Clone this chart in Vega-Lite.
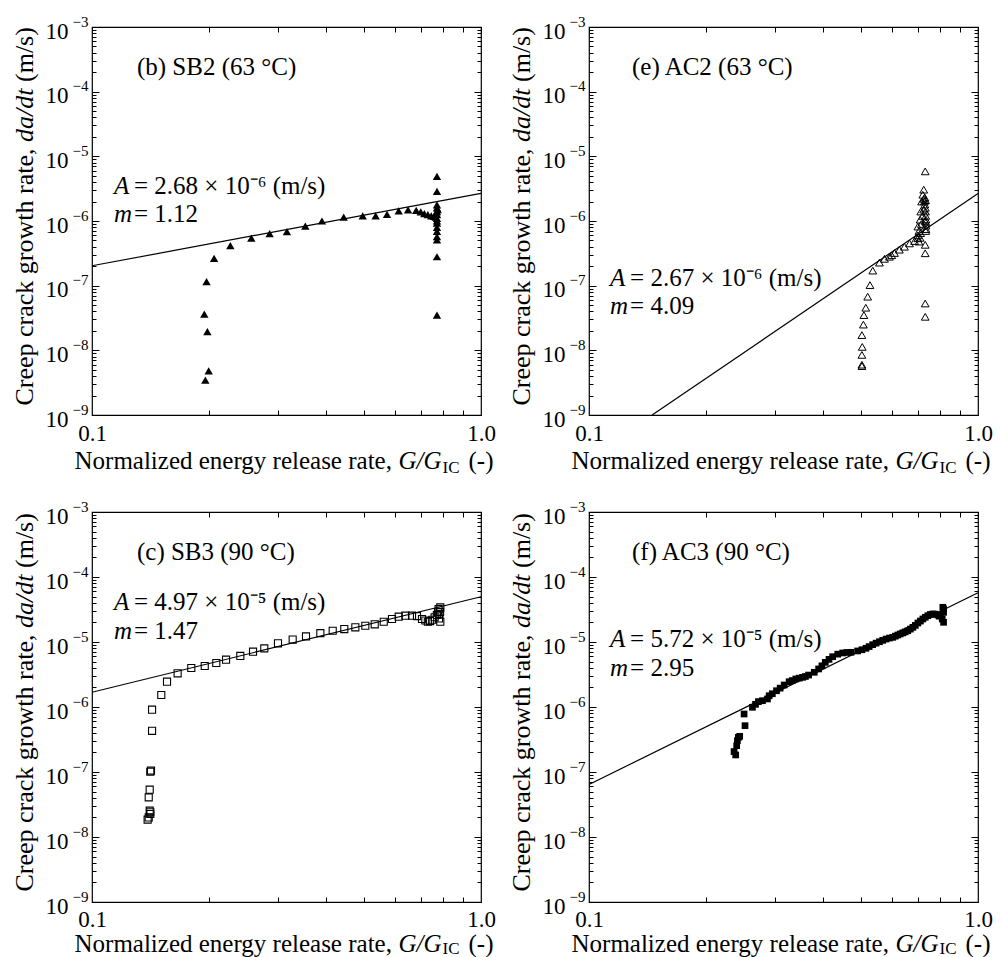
{
  "$schema": "https://vega.github.io/schema/vega-lite/v6.json",
  "background": "white",
  "padding": {"left": 10, "top": 13, "right": 5, "bottom": 0},
  "config": {
    "font": "Liberation Serif",
    "view": {"stroke": "black", "strokeWidth": 1.2},
    "axis": {"grid": false, "domain": false, "labelFont": "Liberation Serif", "titleFont": "Liberation Serif", "labelColor": "black", "titleColor": "black", "tickColor": "black", "titleFontWeight": "normal", "labelOverlap": false, "labelFlush": false},
    "axisX": {"titleFontSize": 25, "titleY": 53, "titleBaseline": "alphabetic", "titleAlign": "left", "titleAngle": 0},
    "axisY": {"titleFontSize": 26, "titleX": -60, "titleBaseline": "alphabetic", "titleAlign": "left", "titleAngle": 270}
  },
  "datasets": {
    "SB2": [
      {"g":0.1956,"v":3.45e-9},{"g":0.1995,"v":4.8e-9},{"g":0.198,"v":1.94e-8},{"g":0.1944,"v":3.64e-8},{"g":0.197,"v":1.15e-7},{"g":0.206,"v":2.65e-7},{"g":0.2268,"v":4.17e-7},{"g":0.2568,"v":5.42e-7},{"g":0.2862,"v":6.4e-7},{"g":0.317,"v":6.87e-7},{"g":0.3535,"v":8.3e-7},{"g":0.39,"v":1.0e-6},{"g":0.4436,"v":1.15e-6},{"g":0.4965,"v":1.2e-6},{"g":0.536,"v":1.2e-6},{"g":0.5733,"v":1.27e-6},{"g":0.6143,"v":1.44e-6},{"g":0.6493,"v":1.49e-6},{"g":0.6814,"v":1.46e-6},{"g":0.70,"v":1.38e-6},{"g":0.715,"v":1.3e-6},{"g":0.73,"v":1.25e-6},{"g":0.745,"v":1.2e-6},{"g":0.757,"v":1.18e-6},{"g":0.765,"v":1.15e-6},
      {"g":0.7706,"v":4.9e-6},{"g":0.7706,"v":2.87e-6},{"g":0.7706,"v":1.78e-6},{"g":0.7706,"v":1.6e-6},{"g":0.7706,"v":1.4e-6},{"g":0.7706,"v":1.25e-6},{"g":0.7706,"v":1.1e-6},{"g":0.7706,"v":1.0e-6},{"g":0.7706,"v":9.3e-7},{"g":0.7706,"v":8.0e-7},{"g":0.7706,"v":6.9e-7},{"g":0.7706,"v":5.75e-7},{"g":0.7706,"v":5.1e-7},{"g":0.7706,"v":2.8e-7},{"g":0.7706,"v":3.5e-8},{"g":0.768,"v":1.3e-6},{"g":0.774,"v":1.5e-6}
    ],
    "AC2": [
      {"g":0.503,"v":5.7e-9},{"g":0.503,"v":6.0e-9},{"g":0.503,"v":8.5e-9},{"g":0.504,"v":1.13e-8},{"g":0.503,"v":1.72e-8},{"g":0.5074,"v":2.5e-8},{"g":0.509,"v":3.5e-8},{"g":0.5147,"v":4.56e-8},{"g":0.5205,"v":6.75e-8},{"g":0.5276,"v":1.02e-7},{"g":0.5364,"v":1.71e-7},
      {"g":0.558,"v":2.27e-7},{"g":0.575,"v":2.6e-7},{"g":0.592,"v":2.8e-7},{"g":0.60,"v":2.95e-7},{"g":0.61,"v":3.2e-7},{"g":0.628,"v":3.6e-7},{"g":0.647,"v":4.0e-7},{"g":0.667,"v":4.5e-7},{"g":0.687,"v":4.9e-7},{"g":0.70,"v":5.4e-7},{"g":0.705,"v":4.8e-7},{"g":0.71,"v":5.5e-7},
      {"g":0.7006,"v":6.0e-7},{"g":0.705,"v":7.0e-7},{"g":0.712,"v":6.5e-7},{"g":0.7006,"v":8.2e-7},{"g":0.71,"v":1.05e-6},{"g":0.7125,"v":1.4e-6},{"g":0.7163,"v":2.0e-6},{"g":0.7213,"v":2.55e-6},{"g":0.7253,"v":3.05e-6},{"g":0.7316,"v":5.85e-6},
      {"g":0.725,"v":2.2e-6},{"g":0.728,"v":2.0e-6},{"g":0.73,"v":1.8e-6},{"g":0.732,"v":1.6e-6},{"g":0.733,"v":1.4e-6},{"g":0.734,"v":1.2e-6},{"g":0.735,"v":1.05e-6},{"g":0.735,"v":9.5e-7},{"g":0.735,"v":8.5e-7},{"g":0.735,"v":7.5e-7},{"g":0.734,"v":7.0e-7},{"g":0.73,"v":2.3e-6},{"g":0.733,"v":2.1e-6},{"g":0.72,"v":1.2e-6},{"g":0.715,"v":9e-7},{"g":0.725,"v":1.5e-6},{"g":0.731,"v":1.0e-6},
      {"g":0.7316,"v":4.28e-7},{"g":0.7316,"v":3.17e-7},{"g":0.7316,"v":5.3e-8},{"g":0.7316,"v":3.3e-8}
    ],
    "SB3": [
      {"g":0.139,"v":1.85e-8},{"g":0.1399,"v":2.0e-8},{"g":0.1412,"v":2.26e-8},{"g":0.1412,"v":2.4e-8},{"g":0.1407,"v":2.54e-8},{"g":0.1399,"v":4.07e-8},{"g":0.1407,"v":5.35e-8},{"g":0.1412,"v":1.01e-7},{"g":0.1418,"v":1.05e-7},{"g":0.1427,"v":4.3e-7},{"g":0.1427,"v":9.1e-7},{"g":0.1507,"v":1.53e-6},{"g":0.1559,"v":2.45e-6},{"g":0.166,"v":3.3e-6},{"g":0.18,"v":3.98e-6},{"g":0.1949,"v":4.27e-6},{"g":0.2087,"v":4.75e-6},{"g":0.2211,"v":5.35e-6},{"g":0.2406,"v":6.1e-6},{"g":0.2594,"v":7.1e-6},{"g":0.2773,"v":7.98e-6},{"g":0.3007,"v":9.55e-6},{"g":0.328,"v":1.09e-5},{"g":0.3549,"v":1.22e-5},{"g":0.3864,"v":1.37e-5},{"g":0.4157,"v":1.49e-5},{"g":0.4452,"v":1.58e-5},{"g":0.4753,"v":1.68e-5},{"g":0.5042,"v":1.78e-5},{"g":0.5331,"v":1.87e-5},{"g":0.5623,"v":2.05e-5},{"g":0.5905,"v":2.26e-5},{"g":0.6143,"v":2.45e-5},{"g":0.6391,"v":2.54e-5},{"g":0.6648,"v":2.54e-5},{"g":0.6846,"v":2.5e-5},{"g":0.7052,"v":2.26e-5},{"g":0.7193,"v":2.14e-5},{"g":0.73,"v":2.05e-5},{"g":0.74,"v":2.1e-5},{"g":0.75,"v":2.2e-5},{"g":0.76,"v":2.4e-5},{"g":0.77,"v":2.6e-5},{"g":0.775,"v":2.86e-5},{"g":0.778,"v":3.2e-5},{"g":0.786,"v":3.4e-5},{"g":0.786,"v":2.05e-5},{"g":0.78,"v":2.3e-5},{"g":0.785,"v":2.9e-5},{"g":0.782,"v":2.7e-5}
    ],
    "AC3": [
      {"g":0.236,"v":2.06e-7},{"g":0.2383,"v":1.83e-7},{"g":0.2397,"v":2.54e-7},{"g":0.2407,"v":3.03e-7},{"g":0.2421,"v":3.41e-7},{"g":0.244,"v":3.54e-7},{"g":0.2518,"v":5.16e-7},{"g":0.2504,"v":7.8e-7},{"g":0.2631,"v":9.9e-7},{"g":0.268,"v":1.1e-6},{"g":0.2726,"v":1.21e-6},{"g":0.2792,"v":1.25e-6},{"g":0.2876,"v":1.33e-6},{"g":0.2905,"v":1.49e-6},{"g":0.296,"v":1.6e-6},{"g":0.3034,"v":1.78e-6},{"g":0.31,"v":1.95e-6},{"g":0.3175,"v":2.18e-6},{"g":0.3269,"v":2.45e-6},{"g":0.333,"v":2.55e-6},{"g":0.3402,"v":2.7e-6},{"g":0.347,"v":2.78e-6},{"g":0.354,"v":2.86e-6},{"g":0.36,"v":2.95e-6},{"g":0.3668,"v":3.1e-6},{"g":0.3794,"v":3.42e-6},{"g":0.3893,"v":3.85e-6},{"g":0.397,"v":4.3e-6},{"g":0.405,"v":4.86e-6},{"g":0.414,"v":5.4e-6},{"g":0.423,"v":5.94e-6},{"g":0.436,"v":6.5e-6},{"g":0.4489,"v":6.78e-6},{"g":0.46,"v":6.9e-6},{"g":0.4716,"v":6.94e-6},{"g":0.4905,"v":7.28e-6},{"g":0.503,"v":7.6e-6},{"g":0.5154,"v":8.0e-6},{"g":0.525,"v":8.5e-6},{"g":0.5362,"v":9.1e-6},{"g":0.547,"v":9.6e-6},{"g":0.558,"v":1.01e-5},{"g":0.569,"v":1.06e-5},{"g":0.5804,"v":1.11e-5},{"g":0.592,"v":1.15e-5},{"g":0.6038,"v":1.18e-5},{"g":0.613,"v":1.23e-5},{"g":0.622,"v":1.28e-5},{"g":0.631,"v":1.33e-5},{"g":0.6408,"v":1.38e-5},{"g":0.65,"v":1.43e-5},{"g":0.6601,"v":1.49e-5},{"g":0.67,"v":1.58e-5},{"g":0.6801,"v":1.68e-5},{"g":0.69,"v":1.8e-5},{"g":0.7006,"v":1.96e-5},{"g":0.711,"v":2.1e-5},{"g":0.7216,"v":2.26e-5},{"g":0.732,"v":2.4e-5},{"g":0.7433,"v":2.54e-5},{"g":0.754,"v":2.65e-5},{"g":0.7656,"v":2.7e-5},{"g":0.777,"v":2.68e-5},{"g":0.7887,"v":2.6e-5},{"g":0.795,"v":2.5e-5},{"g":0.7997,"v":2.54e-5},{"g":0.8091,"v":2.26e-5},{"g":0.8156,"v":2.86e-5},{"g":0.8156,"v":3.22e-5},{"g":0.8156,"v":2.01e-5},{"g":0.812,"v":3.42e-5}
    ],
    "fits": [
      {"panel":"b","g":0.1,"v":2.03e-7},{"panel":"b","g":1.0,"v":2.68e-6},
      {"panel":"e","g":0.1453,"v":1e-9},{"panel":"e","g":1.0,"v":2.67e-6},
      {"panel":"c","g":0.1,"v":1.685e-6},{"panel":"c","g":1.0,"v":4.97e-5},
      {"panel":"f","g":0.1,"v":6.42e-8},{"panel":"f","g":1.0,"v":5.72e-5}
    ],
    "notes": [
      {"panel":"b","g":0.1139,"v":3.5e-6,"sym":"A","rest":"= 2.68 × 10⁻⁶ (m/s)"},
      {"panel":"b","g":0.1139,"v":1.3e-6,"sym":"m","rest":"= 1.12"},
      {"panel":"e","g":0.1133,"v":1.3e-7,"sym":"A","rest":"= 2.67 × 10⁻⁶ (m/s)"},
      {"panel":"e","g":0.1133,"v":4.8e-8,"sym":"m","rest":"= 4.09"},
      {"panel":"c","g":0.1139,"v":4.1e-5,"sym":"A","rest":"= 4.97 × 10⁻⁵ (m/s)"},
      {"panel":"c","g":0.1139,"v":1.5e-5,"sym":"m","rest":"= 1.47"},
      {"panel":"f","g":0.1133,"v":1.1e-5,"sym":"A","rest":"= 5.72 × 10⁻⁵ (m/s)"},
      {"panel":"f","g":0.1133,"v":4.0e-6,"sym":"m","rest":"= 2.95"}
    ],
    "heads": [
      {"panel":"b","g":0.1305,"v":2.4e-4,"label":"(b) SB2 (63 °C)"},
      {"panel":"e","g":0.129,"v":2.4e-4,"label":"(e) AC2 (63 °C)"},
      {"panel":"c","g":0.1305,"v":2.4e-4,"label":"(c) SB3 (90 °C)"},
      {"panel":"f","g":0.129,"v":2.4e-4,"label":"(f) AC3 (90 °C)"}
    ]
  },
  "columns": 2,
  "spacing": {"row": 97, "column": 108},
  "bounds": "flush",
  "concat": [
    {
      "width": 389, "height": 388,
      "resolve": {"axis": {"x": "independent", "y": "independent"}},
      "layer": [
        {"data": {"name": "SB2"}, "mark": {"type": "point", "shape": "triangle-up", "filled": true, "color": "black", "opacity": 1, "size": 70},
         "encoding": {
           "x": {"field": "g", "type": "quantitative", "scale": {"type": "log", "domain": [0.1, 1], "nice": false}, "axis": {"orient": "bottom", "values": [0.1, 1], "labelExpr": "datum.value < 0.5 ? '0.1' : '1.0'", "ticks": false, "labelPadding": 7, "labelFontSize": 23, "title": "Normalized energy release rate,", "titleX": -18}},
           "y": {"field": "v", "type": "quantitative", "scale": {"type": "log", "domain": [1e-9, 1e-3], "nice": false}, "axis": {"orient": "left", "values": [1e-9,1e-8,1e-7,1e-6,1e-5,1e-4,1e-3], "labelExpr": "'10'", "ticks": false, "labelPadding": 24, "labelOffset": 4, "labelFontSize": 23, "labelBaseline": "middle", "title": "Creep crack growth rate,", "titleY": 378}}}},
        {"data": {"name": "fits"}, "transform": [{"filter": "datum.panel == 'b'"}], "mark": {"type": "line", "color": "black", "strokeWidth": 1.2},
         "encoding": {
           "x": {"field": "g", "type": "quantitative", "axis": {"orient": "top", "values": [0.1,0.2,0.3,0.4,0.5,0.6,0.7,0.8,0.9,1], "labels": false, "tickSize": -5, "title": null}},
           "y": {"field": "v", "type": "quantitative", "axis": {"orient": "right", "values": [1e-9,2e-9,3e-9,4e-9,5e-9,6e-9,7e-9,8e-9,9e-9,1e-8,2e-8,3e-8,4e-8,5e-8,6e-8,7e-8,8e-8,9e-8,1e-7,2e-7,3e-7,4e-7,5e-7,6e-7,7e-7,8e-7,9e-7,1e-6,2e-6,3e-6,4e-6,5e-6,6e-6,7e-6,8e-6,9e-6,1e-5,2e-5,3e-5,4e-5,5e-5,6e-5,7e-5,8e-5,9e-5,1e-4,2e-4,3e-4,4e-4,5e-4,6e-4,7e-4,8e-4,9e-4,1e-3], "labels": false, "tickSize": {"condition": {"test": "abs(log(datum.value)/LN10 - round(log(datum.value)/LN10)) < 0.01", "value": -7}, "value": -4}, "title": null}}}},
        {"data": {"name": "notes"}, "transform": [{"filter": "datum.panel == 'b'"}], "mark": {"type": "text", "fontStyle": "italic", "fontSize": 25, "align": "left", "baseline": "middle"},
         "encoding": {
           "x": {"field": "g", "type": "quantitative", "axis": {"orient": "bottom", "values": [0.2,0.3,0.4,0.5,0.6,0.7,0.8,0.9], "labels": false, "tickSize": -5, "title": "G/G", "titleFontStyle": "italic", "titleX": 306}},
           "y": {"field": "v", "type": "quantitative", "axis": {"orient": "left", "values": [1e-9,1e-8,1e-7,1e-6,1e-5,1e-4,1e-3], "labelExpr": "datum.value < 5e-9 ? '−9' : datum.value < 5e-8 ? '−8' : datum.value < 5e-7 ? '−7' : datum.value < 5e-6 ? '−6' : datum.value < 5e-5 ? '−5' : datum.value < 5e-4 ? '−4' : '−3'", "ticks": false, "labelPadding": 4, "labelOffset": -6, "labelFontSize": 15, "labelBaseline": "middle", "title": "da/dt", "titleFontStyle": "italic", "titleY": 114.5}},
           "text": {"field": "sym"}}},
        {"data": {"name": "notes"}, "transform": [{"filter": "datum.panel == 'b'"}], "mark": {"type": "text", "fontSize": 25, "align": "left", "baseline": "middle", "dx": 20},
         "encoding": {
           "x": {"field": "g", "type": "quantitative", "axis": {"orient": "bottom", "labels": false, "ticks": false, "title": "IC", "titleFontSize": 17, "titleX": 350, "titleY": 57}},
           "y": {"field": "v", "type": "quantitative", "axis": {"orient": "left", "values": [1e-9,2e-9,3e-9,4e-9,5e-9,6e-9,7e-9,8e-9,9e-9,1e-8,2e-8,3e-8,4e-8,5e-8,6e-8,7e-8,8e-8,9e-8,1e-7,2e-7,3e-7,4e-7,5e-7,6e-7,7e-7,8e-7,9e-7,1e-6,2e-6,3e-6,4e-6,5e-6,6e-6,7e-6,8e-6,9e-6,1e-5,2e-5,3e-5,4e-5,5e-5,6e-5,7e-5,8e-5,9e-5,1e-4,2e-4,3e-4,4e-4,5e-4,6e-4,7e-4,8e-4,9e-4,1e-3], "labels": false, "tickSize": {"condition": {"test": "abs(log(datum.value)/LN10 - round(log(datum.value)/LN10)) < 0.01", "value": -7}, "value": -4}, "title": "(m/s)", "titleY": 54.5}},
           "text": {"field": "rest"}}},
        {"data": {"name": "heads"}, "transform": [{"filter": "datum.panel == 'b'"}], "mark": {"type": "text", "fontSize": 25, "align": "left", "baseline": "middle"},
         "encoding": {
           "x": {"field": "g", "type": "quantitative", "axis": {"orient": "bottom", "labels": false, "ticks": false, "title": "(-)", "titleX": 376}},
           "y": {"field": "v", "type": "quantitative", "axis": null},
           "text": {"field": "label"}}}
      ]
    },
    {
      "width": 389, "height": 388,
      "resolve": {"axis": {"x": "independent", "y": "independent"}},
      "layer": [
        {"data": {"name": "AC2"}, "mark": {"type": "point", "shape": "triangle-up", "filled": false, "stroke": "black", "strokeWidth": 1, "opacity": 1, "size": 60},
         "encoding": {
           "x": {"field": "g", "type": "quantitative", "scale": {"type": "log", "domain": [0.1, 1], "nice": false}, "axis": {"orient": "bottom", "values": [0.1, 1], "labelExpr": "datum.value < 0.5 ? '0.1' : '1.0'", "ticks": false, "labelPadding": 7, "labelFontSize": 23, "title": "Normalized energy release rate,", "titleX": -18}},
           "y": {"field": "v", "type": "quantitative", "scale": {"type": "log", "domain": [1e-9, 1e-3], "nice": false}, "axis": {"orient": "left", "values": [1e-9,1e-8,1e-7,1e-6,1e-5,1e-4,1e-3], "labelExpr": "'10'", "ticks": false, "labelPadding": 24, "labelOffset": 4, "labelFontSize": 23, "labelBaseline": "middle", "title": "Creep crack growth rate,", "titleY": 378}}}},
        {"data": {"name": "fits"}, "transform": [{"filter": "datum.panel == 'e'"}], "mark": {"type": "line", "color": "black", "strokeWidth": 1.2},
         "encoding": {
           "x": {"field": "g", "type": "quantitative", "axis": {"orient": "top", "values": [0.1,0.2,0.3,0.4,0.5,0.6,0.7,0.8,0.9,1], "labels": false, "tickSize": -5, "title": null}},
           "y": {"field": "v", "type": "quantitative", "axis": {"orient": "right", "values": [1e-9,2e-9,3e-9,4e-9,5e-9,6e-9,7e-9,8e-9,9e-9,1e-8,2e-8,3e-8,4e-8,5e-8,6e-8,7e-8,8e-8,9e-8,1e-7,2e-7,3e-7,4e-7,5e-7,6e-7,7e-7,8e-7,9e-7,1e-6,2e-6,3e-6,4e-6,5e-6,6e-6,7e-6,8e-6,9e-6,1e-5,2e-5,3e-5,4e-5,5e-5,6e-5,7e-5,8e-5,9e-5,1e-4,2e-4,3e-4,4e-4,5e-4,6e-4,7e-4,8e-4,9e-4,1e-3], "labels": false, "tickSize": {"condition": {"test": "abs(log(datum.value)/LN10 - round(log(datum.value)/LN10)) < 0.01", "value": -7}, "value": -4}, "title": null}}}},
        {"data": {"name": "notes"}, "transform": [{"filter": "datum.panel == 'e'"}], "mark": {"type": "text", "fontStyle": "italic", "fontSize": 25, "align": "left", "baseline": "middle"},
         "encoding": {
           "x": {"field": "g", "type": "quantitative", "axis": {"orient": "bottom", "values": [0.2,0.3,0.4,0.5,0.6,0.7,0.8,0.9], "labels": false, "tickSize": -5, "title": "G/G", "titleFontStyle": "italic", "titleX": 306}},
           "y": {"field": "v", "type": "quantitative", "axis": {"orient": "left", "values": [1e-9,1e-8,1e-7,1e-6,1e-5,1e-4,1e-3], "labelExpr": "datum.value < 5e-9 ? '−9' : datum.value < 5e-8 ? '−8' : datum.value < 5e-7 ? '−7' : datum.value < 5e-6 ? '−6' : datum.value < 5e-5 ? '−5' : datum.value < 5e-4 ? '−4' : '−3'", "ticks": false, "labelPadding": 4, "labelOffset": -6, "labelFontSize": 15, "labelBaseline": "middle", "title": "da/dt", "titleFontStyle": "italic", "titleY": 114.5}},
           "text": {"field": "sym"}}},
        {"data": {"name": "notes"}, "transform": [{"filter": "datum.panel == 'e'"}], "mark": {"type": "text", "fontSize": 25, "align": "left", "baseline": "middle", "dx": 20},
         "encoding": {
           "x": {"field": "g", "type": "quantitative", "axis": {"orient": "bottom", "labels": false, "ticks": false, "title": "IC", "titleFontSize": 17, "titleX": 350, "titleY": 57}},
           "y": {"field": "v", "type": "quantitative", "axis": {"orient": "left", "values": [1e-9,2e-9,3e-9,4e-9,5e-9,6e-9,7e-9,8e-9,9e-9,1e-8,2e-8,3e-8,4e-8,5e-8,6e-8,7e-8,8e-8,9e-8,1e-7,2e-7,3e-7,4e-7,5e-7,6e-7,7e-7,8e-7,9e-7,1e-6,2e-6,3e-6,4e-6,5e-6,6e-6,7e-6,8e-6,9e-6,1e-5,2e-5,3e-5,4e-5,5e-5,6e-5,7e-5,8e-5,9e-5,1e-4,2e-4,3e-4,4e-4,5e-4,6e-4,7e-4,8e-4,9e-4,1e-3], "labels": false, "tickSize": {"condition": {"test": "abs(log(datum.value)/LN10 - round(log(datum.value)/LN10)) < 0.01", "value": -7}, "value": -4}, "title": "(m/s)", "titleY": 54.5}},
           "text": {"field": "rest"}}},
        {"data": {"name": "heads"}, "transform": [{"filter": "datum.panel == 'e'"}], "mark": {"type": "text", "fontSize": 25, "align": "left", "baseline": "middle"},
         "encoding": {
           "x": {"field": "g", "type": "quantitative", "axis": {"orient": "bottom", "labels": false, "ticks": false, "title": "(-)", "titleX": 376}},
           "y": {"field": "v", "type": "quantitative", "axis": null},
           "text": {"field": "label"}}}
      ]
    },
    {
      "width": 389, "height": 390,
      "resolve": {"axis": {"x": "independent", "y": "independent"}},
      "layer": [
        {"data": {"name": "SB3"}, "mark": {"type": "point", "shape": "square", "filled": false, "stroke": "black", "strokeWidth": 1.1, "opacity": 1, "size": 50},
         "encoding": {
           "x": {"field": "g", "type": "quantitative", "scale": {"type": "log", "domain": [0.1, 1], "nice": false}, "axis": {"orient": "bottom", "values": [0.1, 1], "labelExpr": "datum.value < 0.5 ? '0.1' : '1.0'", "ticks": false, "labelPadding": 6, "labelFontSize": 23, "title": "Normalized energy release rate,", "titleX": -18, "titleY": 49}},
           "y": {"field": "v", "type": "quantitative", "scale": {"type": "log", "domain": [1e-9, 1e-3], "nice": false}, "axis": {"orient": "left", "values": [1e-9,1e-8,1e-7,1e-6,1e-5,1e-4,1e-3], "labelExpr": "'10'", "ticks": false, "labelPadding": 24, "labelOffset": 4, "labelFontSize": 23, "labelBaseline": "middle", "title": "Creep crack growth rate,", "titleY": 379}}}},
        {"data": {"name": "fits"}, "transform": [{"filter": "datum.panel == 'c'"}], "mark": {"type": "line", "color": "black", "strokeWidth": 1.2},
         "encoding": {
           "x": {"field": "g", "type": "quantitative", "axis": {"orient": "top", "values": [0.1,0.2,0.3,0.4,0.5,0.6,0.7,0.8,0.9,1], "labels": false, "tickSize": -5, "title": null}},
           "y": {"field": "v", "type": "quantitative", "axis": {"orient": "right", "values": [1e-9,2e-9,3e-9,4e-9,5e-9,6e-9,7e-9,8e-9,9e-9,1e-8,2e-8,3e-8,4e-8,5e-8,6e-8,7e-8,8e-8,9e-8,1e-7,2e-7,3e-7,4e-7,5e-7,6e-7,7e-7,8e-7,9e-7,1e-6,2e-6,3e-6,4e-6,5e-6,6e-6,7e-6,8e-6,9e-6,1e-5,2e-5,3e-5,4e-5,5e-5,6e-5,7e-5,8e-5,9e-5,1e-4,2e-4,3e-4,4e-4,5e-4,6e-4,7e-4,8e-4,9e-4,1e-3], "labels": false, "tickSize": {"condition": {"test": "abs(log(datum.value)/LN10 - round(log(datum.value)/LN10)) < 0.01", "value": -7}, "value": -4}, "title": null}}}},
        {"data": {"name": "notes"}, "transform": [{"filter": "datum.panel == 'c'"}], "mark": {"type": "text", "fontStyle": "italic", "fontSize": 25, "align": "left", "baseline": "middle"},
         "encoding": {
           "x": {"field": "g", "type": "quantitative", "axis": {"orient": "bottom", "values": [0.2,0.3,0.4,0.5,0.6,0.7,0.8,0.9], "labels": false, "tickSize": -5, "title": "G/G", "titleFontStyle": "italic", "titleX": 306, "titleY": 49}},
           "y": {"field": "v", "type": "quantitative", "axis": {"orient": "left", "values": [1e-9,1e-8,1e-7,1e-6,1e-5,1e-4,1e-3], "labelExpr": "datum.value < 5e-9 ? '−9' : datum.value < 5e-8 ? '−8' : datum.value < 5e-7 ? '−7' : datum.value < 5e-6 ? '−6' : datum.value < 5e-5 ? '−5' : datum.value < 5e-4 ? '−4' : '−3'", "ticks": false, "labelPadding": 4, "labelOffset": -6, "labelFontSize": 15, "labelBaseline": "middle", "title": "da/dt", "titleFontStyle": "italic", "titleY": 115.5}},
           "text": {"field": "sym"}}},
        {"data": {"name": "notes"}, "transform": [{"filter": "datum.panel == 'c'"}], "mark": {"type": "text", "fontSize": 25, "align": "left", "baseline": "middle", "dx": 20},
         "encoding": {
           "x": {"field": "g", "type": "quantitative", "axis": {"orient": "bottom", "labels": false, "ticks": false, "title": "IC", "titleFontSize": 17, "titleX": 350, "titleY": 51}},
           "y": {"field": "v", "type": "quantitative", "axis": {"orient": "left", "values": [1e-9,2e-9,3e-9,4e-9,5e-9,6e-9,7e-9,8e-9,9e-9,1e-8,2e-8,3e-8,4e-8,5e-8,6e-8,7e-8,8e-8,9e-8,1e-7,2e-7,3e-7,4e-7,5e-7,6e-7,7e-7,8e-7,9e-7,1e-6,2e-6,3e-6,4e-6,5e-6,6e-6,7e-6,8e-6,9e-6,1e-5,2e-5,3e-5,4e-5,5e-5,6e-5,7e-5,8e-5,9e-5,1e-4,2e-4,3e-4,4e-4,5e-4,6e-4,7e-4,8e-4,9e-4,1e-3], "labels": false, "tickSize": {"condition": {"test": "abs(log(datum.value)/LN10 - round(log(datum.value)/LN10)) < 0.01", "value": -7}, "value": -4}, "title": "(m/s)", "titleY": 55.5}},
           "text": {"field": "rest"}}},
        {"data": {"name": "heads"}, "transform": [{"filter": "datum.panel == 'c'"}], "mark": {"type": "text", "fontSize": 25, "align": "left", "baseline": "middle"},
         "encoding": {
           "x": {"field": "g", "type": "quantitative", "axis": {"orient": "bottom", "labels": false, "ticks": false, "title": "(-)", "titleX": 376, "titleY": 49}},
           "y": {"field": "v", "type": "quantitative", "axis": null},
           "text": {"field": "label"}}}
      ]
    },
    {
      "width": 389, "height": 390,
      "resolve": {"axis": {"x": "independent", "y": "independent"}},
      "layer": [
        {"data": {"name": "AC3"}, "mark": {"type": "point", "shape": "square", "filled": true, "color": "black", "opacity": 1, "size": 45},
         "encoding": {
           "x": {"field": "g", "type": "quantitative", "scale": {"type": "log", "domain": [0.1, 1], "nice": false}, "axis": {"orient": "bottom", "values": [0.1, 1], "labelExpr": "datum.value < 0.5 ? '0.1' : '1.0'", "ticks": false, "labelPadding": 6, "labelFontSize": 23, "title": "Normalized energy release rate,", "titleX": -18, "titleY": 49}},
           "y": {"field": "v", "type": "quantitative", "scale": {"type": "log", "domain": [1e-9, 1e-3], "nice": false}, "axis": {"orient": "left", "values": [1e-9,1e-8,1e-7,1e-6,1e-5,1e-4,1e-3], "labelExpr": "'10'", "ticks": false, "labelPadding": 24, "labelOffset": 4, "labelFontSize": 23, "labelBaseline": "middle", "title": "Creep crack growth rate,", "titleY": 379}}}},
        {"data": {"name": "fits"}, "transform": [{"filter": "datum.panel == 'f'"}], "mark": {"type": "line", "color": "black", "strokeWidth": 1.2},
         "encoding": {
           "x": {"field": "g", "type": "quantitative", "axis": {"orient": "top", "values": [0.1,0.2,0.3,0.4,0.5,0.6,0.7,0.8,0.9,1], "labels": false, "tickSize": -5, "title": null}},
           "y": {"field": "v", "type": "quantitative", "axis": {"orient": "right", "values": [1e-9,2e-9,3e-9,4e-9,5e-9,6e-9,7e-9,8e-9,9e-9,1e-8,2e-8,3e-8,4e-8,5e-8,6e-8,7e-8,8e-8,9e-8,1e-7,2e-7,3e-7,4e-7,5e-7,6e-7,7e-7,8e-7,9e-7,1e-6,2e-6,3e-6,4e-6,5e-6,6e-6,7e-6,8e-6,9e-6,1e-5,2e-5,3e-5,4e-5,5e-5,6e-5,7e-5,8e-5,9e-5,1e-4,2e-4,3e-4,4e-4,5e-4,6e-4,7e-4,8e-4,9e-4,1e-3], "labels": false, "tickSize": {"condition": {"test": "abs(log(datum.value)/LN10 - round(log(datum.value)/LN10)) < 0.01", "value": -7}, "value": -4}, "title": null}}}},
        {"data": {"name": "notes"}, "transform": [{"filter": "datum.panel == 'f'"}], "mark": {"type": "text", "fontStyle": "italic", "fontSize": 25, "align": "left", "baseline": "middle"},
         "encoding": {
           "x": {"field": "g", "type": "quantitative", "axis": {"orient": "bottom", "values": [0.2,0.3,0.4,0.5,0.6,0.7,0.8,0.9], "labels": false, "tickSize": -5, "title": "G/G", "titleFontStyle": "italic", "titleX": 306, "titleY": 49}},
           "y": {"field": "v", "type": "quantitative", "axis": {"orient": "left", "values": [1e-9,1e-8,1e-7,1e-6,1e-5,1e-4,1e-3], "labelExpr": "datum.value < 5e-9 ? '−9' : datum.value < 5e-8 ? '−8' : datum.value < 5e-7 ? '−7' : datum.value < 5e-6 ? '−6' : datum.value < 5e-5 ? '−5' : datum.value < 5e-4 ? '−4' : '−3'", "ticks": false, "labelPadding": 4, "labelOffset": -6, "labelFontSize": 15, "labelBaseline": "middle", "title": "da/dt", "titleFontStyle": "italic", "titleY": 115.5}},
           "text": {"field": "sym"}}},
        {"data": {"name": "notes"}, "transform": [{"filter": "datum.panel == 'f'"}], "mark": {"type": "text", "fontSize": 25, "align": "left", "baseline": "middle", "dx": 20},
         "encoding": {
           "x": {"field": "g", "type": "quantitative", "axis": {"orient": "bottom", "labels": false, "ticks": false, "title": "IC", "titleFontSize": 17, "titleX": 350, "titleY": 51}},
           "y": {"field": "v", "type": "quantitative", "axis": {"orient": "left", "values": [1e-9,2e-9,3e-9,4e-9,5e-9,6e-9,7e-9,8e-9,9e-9,1e-8,2e-8,3e-8,4e-8,5e-8,6e-8,7e-8,8e-8,9e-8,1e-7,2e-7,3e-7,4e-7,5e-7,6e-7,7e-7,8e-7,9e-7,1e-6,2e-6,3e-6,4e-6,5e-6,6e-6,7e-6,8e-6,9e-6,1e-5,2e-5,3e-5,4e-5,5e-5,6e-5,7e-5,8e-5,9e-5,1e-4,2e-4,3e-4,4e-4,5e-4,6e-4,7e-4,8e-4,9e-4,1e-3], "labels": false, "tickSize": {"condition": {"test": "abs(log(datum.value)/LN10 - round(log(datum.value)/LN10)) < 0.01", "value": -7}, "value": -4}, "title": "(m/s)", "titleY": 55.5}},
           "text": {"field": "rest"}}},
        {"data": {"name": "heads"}, "transform": [{"filter": "datum.panel == 'f'"}], "mark": {"type": "text", "fontSize": 25, "align": "left", "baseline": "middle"},
         "encoding": {
           "x": {"field": "g", "type": "quantitative", "axis": {"orient": "bottom", "labels": false, "ticks": false, "title": "(-)", "titleX": 376, "titleY": 49}},
           "y": {"field": "v", "type": "quantitative", "axis": null},
           "text": {"field": "label"}}}
      ]
    }
  ]
}
